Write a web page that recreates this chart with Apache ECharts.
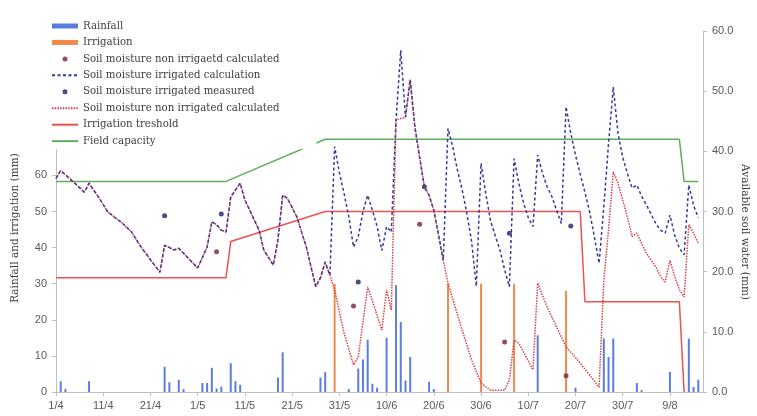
<!DOCTYPE html>
<html>
<head>
<meta charset="utf-8">
<script src="https://cdn.jsdelivr.net/npm/echarts@6/dist/echarts.min.js"></script>
<style>
html,body{margin:0;padding:0;background:#fff;}
#chart{width:757px;height:416px;}
</style>
</head>
<body>
<div id="chart"></div>
<script>
// ---- Data (day index counted from 1 April) ----
const startMonth = 4;
const monthLengths = {4:30,5:31,6:30,7:31,8:31};
const dayCount = 138;

const rainfall = [[1,3],[2,0.8],[7,3],[23,7],[24,2.7],[26,3.4],[27,0.8],[31,2.5],[32,2.5],[33,6.7],[34,1],[35,1.5],
  [37,8],[38,3],[39,2],[47,4],[48,11],[56,4],[57,5.5],[62,0.8],[64,6.5],[65,9],[66,14.5],[67,2.3],[68,1.2],
  [70,15],[72,29.6],[73,19.4],[74,3.2],[75,9.7],[79,2.8],[80,0.8],[102,15.7],[110,1.2],[116,14.8],[117,9.7],
  [118,14.8],[123,2.5],[124,0.5],[130,5.6],[134,14.8],[135,1.4],[136,3.4]];

const irrigation = [[59,30],[83,30],[90,30],[97,30],[108,28]];

// common calculated soil water (both treatments identical before first irrigation)
const soilCommon = [[0,35.5],[1,36.8],[4,34.7],[6,33.2],[7,34.7],[9,32.4],[11,29.9],[14,28.1],[16,26.6],[18,24.1],
  [22,19.9],[23,24.4],[25,23.6],[26,23.9],[30,20.6],[32,24.1],[33,28.3],[34,27.8],[35,26.9],[36,26.6],[37,32.4],
  [39,34.7],[40,31.9],[43,26.9],[44,23.6],[46,21.1],[47,25.3],[48,32.7],[49,32.2],[51,29.1],[53,24.1],[55,17.5],
  [56,19],[57,21.6],[58,19.4]];

const nonIrrCalcTail = [[59,17],[61,9.8],[63,4.5],[64,5.8],[66,17.5],[69,10.3],[70,17],[71,13.6],[72,45.2],[74,45.7],
  [75,51.9],[76,44],[77,39],[78,34.1],[79,32.7],[80,30.2],[81,26.1],[82,21.9],[83,18.1],[86,10.3],[88,5.3],[90,1.5],
  [92,0.3],[95,0.3],[96,2],[97,8.6],[98,8.1],[101,3.7],[102,18.1],[104,14.1],[108,7.5],[111,4.8],[115,0.8],[116,18.6],
  [117,27],[118,36.6],[119,34.7],[120,31.9],[121,29.1],[122,25.8],[123,26.4],[124,24.7],[125,23.1],[127,20.8],
  [128,19.2],[129,18.3],[130,21.9],[131,19.2],[132,17],[133,15.8],[134,27.8],[135,26.4],[136,24.7]];

const irrCalcTail = [[59,40.8],[60,36.5],[61,33],[62,29.1],[63,24.1],[64,25.8],[65,30],[66,32.7],[67,30.2],[68,27.5],
  [69,23.5],[70,27.5],[71,26.6],[72,45.2],[73,56.8],[74,45.7],[75,51.9],[76,44],[77,39],[78,34.1],[79,32.7],[80,30.2],
  [81,26.1],[82,21.9],[83,43.8],[84,40.8],[85,36.9],[86,33.6],[87,29.7],[88,25],[89,17.6],[90,38],[91,33],[92,28.5],
  [93,26],[94,23.6],[95,20.3],[96,17.5],[97,38.8],[98,34.7],[99,31.4],[100,29],[101,27.5],[102,39.4],[103,36.4],
  [104,34.1],[105,32.5],[106,30.2],[107,28],[108,47.4],[109,43],[110,39.4],[111,36.2],[112,33.2],[113,29.9],
  [114,25.8],[115,21.4],[116,30.8],[117,41.3],[118,50.7],[119,43],[120,39],[121,36.3],[122,33.9],[123,34.4],
  [124,32.5],[125,31.1],[126,29.6],[127,28],[128,26.9],[129,26.4],[130,29.4],[131,26.1],[132,23.9],[133,22.8],
  [134,34.4],[135,31],[136,29]];

const irrMeasured = [[23,29.3],[35,29.6],[64,18.3],[78,34.1],[96,26.4],[109,27.6]];
const nonIrrMeasured = [[34,23.3],[63,14.3],[77,27.9],[95,8.3],[108,2.7]];

const threshold = [[0,19],[36,19],[37,25],[57,30],[111,30],[112,15],[132,15],[133,0]];
const fieldCapacity = [[0,35],[36,35],[57,42],[132,42],[133,35],[136,35]];

const leftTicks = {min:0, max:100, interval:10, maxLabel:60};
const rightTicks = {min:0, max:60, interval:10};

const names = {
  rain: 'Rainfall',
  irr: 'Irrigation',
  nonIrrMeas: 'Soil moisture non irrigaetd calculated',
  irrCalc: 'Soil moisture irrigated calculation',
  irrMeas: 'Soil moisture irrigated measured',
  nonIrrCalc: 'Soil moisture non irrigated calculated',
  thr: 'Irrigation treshold',
  fc: 'Field capacity'
};

// ---- categories ----
const categories = [];
{
  let m = startMonth, d = 1;
  for (let i = 0; i < dayCount; i++) {
    categories.push(d + '/' + m);
    d++;
    if (d > monthLengths[m]) { d = 1; m++; }
  }
}

const chart = echarts.init(document.getElementById('chart'), null, {renderer:'canvas'});
const axisFont = {fontFamily:'Liberation Sans', fontSize:11, color:'#595959'};
const titleFont = {fontFamily:'DejaVu Serif', fontSize:10.5, fill:'#404040'};
const hideSym = {opacity:0};

chart.setOption({
  animation:false,
  backgroundColor:'#fff',
  grid:{left:56, right:54, top:31, bottom:24},
  legend:{
    orient:'vertical', left:46, top:14,
    padding:[5.5,37,1.5,5],
    backgroundColor:'#fff',
    itemWidth:26, itemHeight:5, itemGap:3.45,
    textStyle:{fontFamily:'DejaVu Serif', fontSize:10.2, color:'#404040', lineHeight:13},
    data:[
      {name:names.rain, icon:'rect'},
      {name:names.irr, icon:'rect'},
      {name:names.nonIrrMeas, icon:'circle'},
      {name:names.irrCalc, itemStyle:hideSym},
      {name:names.irrMeas, icon:'circle'},
      {name:names.nonIrrCalc, itemStyle:hideSym},
      {name:names.thr, itemStyle:hideSym},
      {name:names.fc, itemStyle:hideSym}
    ]
  },
  xAxis:{
    type:'category', data:categories, boundaryGap:false,
    axisLine:{lineStyle:{color:'#bfbfbf'}},
    axisTick:{interval:9, length:4, lineStyle:{color:'#bfbfbf'}},
    axisLabel:Object.assign({interval:9, margin:8}, axisFont),
    splitLine:{show:false}
  },
  yAxis:[
    {
      type:'value', position:'left', min:leftTicks.min, max:leftTicks.max, interval:leftTicks.interval,
      axisLine:{show:true, lineStyle:{color:'#bfbfbf'}},
      axisTick:{show:true, length:4, lineStyle:{color:'#bfbfbf'}},
      axisLabel:Object.assign({margin:9, formatter:v => v <= leftTicks.maxLabel ? String(v) : ''}, axisFont),
      splitLine:{show:false}
    },
    {
      type:'value', position:'right', min:rightTicks.min, max:rightTicks.max, interval:rightTicks.interval,
      axisLine:{show:true, lineStyle:{color:'#bfbfbf'}},
      axisTick:{show:true, length:4, lineStyle:{color:'#bfbfbf'}},
      axisLabel:Object.assign({margin:9, formatter:v => v.toFixed(1)}, axisFont),
      splitLine:{show:false}
    }
  ],
  graphic:[
    {type:'text', x:15, y:228, rotation:Math.PI/2,
     style:Object.assign({text:'Rainfall and irrigation (mm)', align:'center', verticalAlign:'middle'}, titleFont)},
    {type:'text', x:745, y:232, rotation:-Math.PI/2,
     style:Object.assign({text:'Available soil water (mm)', align:'center', verticalAlign:'middle'}, titleFont)}
  ],
  series:[
    {name:names.rain, type:'bar', yAxisIndex:0, data:rainfall, barWidth:2, barGap:'-100%',
     itemStyle:{color:'#5a7de0'}},
    {name:names.irr, type:'bar', yAxisIndex:0, data:irrigation, barWidth:2, barGap:'-100%',
     itemStyle:{color:'#f28a4c'}},
    {name:names.thr, type:'line', yAxisIndex:1, data:threshold, symbol:'none',
     lineStyle:{color:'#f0504f', width:1.5}, itemStyle:{color:'#f0504f'}},
    {name:names.fc, type:'line', yAxisIndex:1, data:fieldCapacity, symbol:'none',
     lineStyle:{color:'#5fae5f', width:1.5}, itemStyle:{color:'#5fae5f'}},
    {name:names.nonIrrCalc, type:'line', yAxisIndex:1, data:soilCommon.concat(nonIrrCalcTail), symbol:'none',
     lineStyle:{color:'#dd3f46', width:1.5, type:[1.5,1.2]}, itemStyle:{color:'#dd3f46'}},
    {name:names.irrCalc, type:'line', yAxisIndex:1, data:soilCommon.concat(irrCalcTail), symbol:'none',
     lineStyle:{color:'#333a9c', width:1.5, type:[3,2.5]}, itemStyle:{color:'#333a9c'}},
    {name:names.nonIrrMeas, type:'scatter', yAxisIndex:1, data:nonIrrMeasured, symbol:'circle', symbolSize:5,
     itemStyle:{color:'#7b1f3f'}},
    {name:names.irrMeas, type:'scatter', yAxisIndex:1, data:irrMeasured, symbol:'circle', symbolSize:5,
     itemStyle:{color:'#1d1f66'}}
  ]
});
</script>
</body>
</html>
